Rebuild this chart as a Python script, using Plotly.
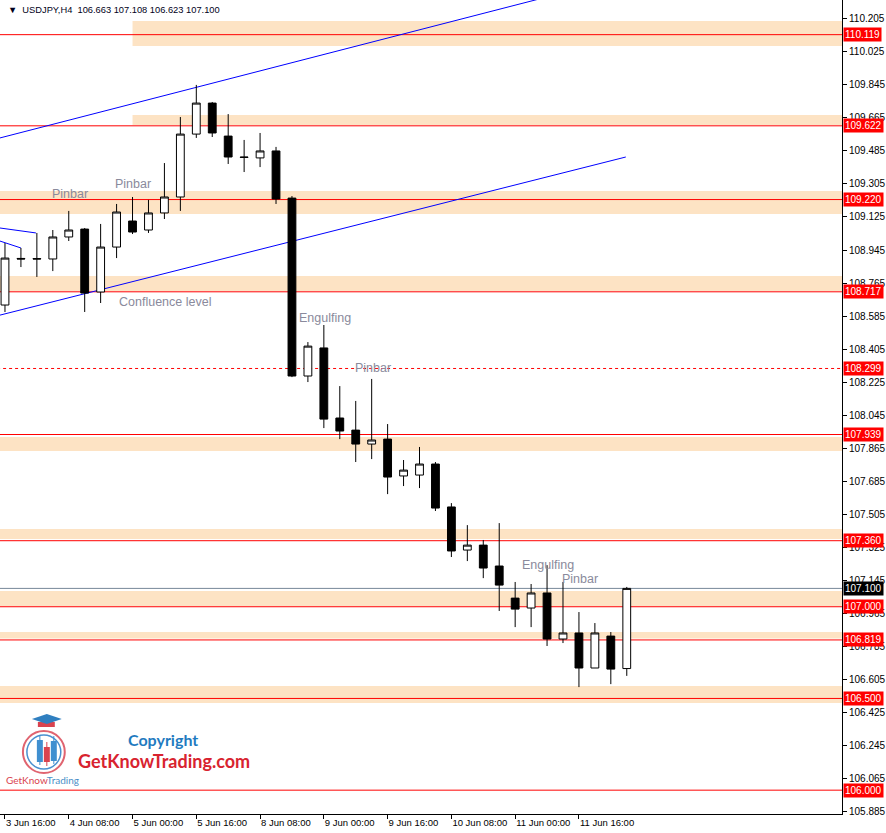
import plotly.graph_objects as go

# H4 candles, USDJPY 3 Jun 16:00 .. 12 Jun 04:00
times = [
    "3 Jun 16:00", "3 Jun 20:00",
    "4 Jun 00:00", "4 Jun 04:00", "4 Jun 08:00", "4 Jun 12:00", "4 Jun 16:00", "4 Jun 20:00",
    "5 Jun 00:00", "5 Jun 04:00", "5 Jun 08:00", "5 Jun 12:00", "5 Jun 16:00", "5 Jun 20:00",
    "8 Jun 00:00", "8 Jun 04:00", "8 Jun 08:00", "8 Jun 12:00", "8 Jun 16:00", "8 Jun 20:00",
    "9 Jun 00:00", "9 Jun 04:00", "9 Jun 08:00", "9 Jun 12:00", "9 Jun 16:00", "9 Jun 20:00",
    "10 Jun 00:00", "10 Jun 04:00", "10 Jun 08:00", "10 Jun 12:00", "10 Jun 16:00", "10 Jun 20:00",
    "11 Jun 00:00", "11 Jun 04:00", "11 Jun 08:00", "11 Jun 12:00", "11 Jun 16:00", "11 Jun 20:00",
    "12 Jun 00:00", "12 Jun 04:00",
]
opens = [108.645, 108.899, 108.898, 108.896, 109.016, 109.059, 108.716, 108.961, 109.103, 109.054,
         109.147, 109.234, 109.577, 109.746, 109.566, 109.452, 109.447, 109.485, 109.228, 108.258,
         108.411, 108.029, 107.963, 107.887, 107.914, 107.713, 107.718, 107.778, 107.544, 107.309,
         107.336, 107.222, 107.047, 106.993, 107.075, 106.824, 106.857, 106.666, 106.840, 106.663]
highs = [108.983, 108.956, 109.038, 109.054, 109.158, 109.065, 109.087, 109.196, 109.234, 109.218,
         109.419, 109.670, 109.845, 109.752, 109.686, 109.545, 109.583, 109.507, 109.239, 108.443,
         108.536, 108.203, 108.122, 108.242, 107.996, 107.800, 107.871, 107.789, 107.565, 107.445,
         107.364, 107.456, 107.135, 107.124, 107.227, 107.135, 106.971, 106.911, 106.862, 107.108]
lows = [108.607, 108.852, 108.798, 108.830, 108.994, 108.607, 108.656, 108.901, 109.032, 109.038,
        109.114, 109.158, 109.556, 109.561, 109.414, 109.370, 109.397, 109.196, 108.252, 108.225,
        107.974, 107.914, 107.789, 107.805, 107.614, 107.658, 107.647, 107.522, 107.271, 107.249,
        107.156, 106.977, 106.889, 106.889, 106.786, 106.802, 106.562, 106.666, 106.578, 106.623]
closes = [108.901, 108.896, 108.896, 109.016, 109.054, 108.710, 108.961, 109.152, 109.043, 109.147,
          109.234, 109.577, 109.746, 109.583, 109.452, 109.450, 109.485, 109.223, 108.258, 108.421,
          108.023, 107.958, 107.887, 107.909, 107.707, 107.745, 107.778, 107.538, 107.304, 107.336,
          107.211, 107.118, 106.987, 107.075, 106.824, 106.857, 106.666, 106.857, 106.660, 107.100]

# support / resistance levels
red_levels = [110.119, 109.622, 109.220, 108.717, 107.939, 107.360, 107.000, 106.819, 106.500, 106.000]
dashed_level = 108.299
bid_price = closes[-1]

# shaded zones (low, high, first candle)
zone_low = [110.057, 109.626, 109.141, 108.721, 107.849, 107.369, 107.004, 106.827, 106.475]
zone_high = [110.193, 109.681, 109.267, 108.803, 107.925, 107.424, 107.086, 106.862, 106.568]
zone_from = [8, 8, -2, -2, -2, -2, -2, -2, -2]

# trend lines: (x0, y0, x1, y1) in candle index / price
trend_lines = [
    (-0.3125, 109.556, 40.0, 110.459),
    (-0.3125, 108.590, 38.94, 109.452),
    (-2.0, 109.085, 1.94, 109.038),
    (-2.0, 109.042, 1.0, 108.956),
]

# pattern labels
label_text = ["Pinbar", "Pinbar", "Confluence level", "Engulfing", "Pinbar", "Engulfing", "Pinbar"]
label_x = [4.06, 8.06, 10.06, 20.06, 23.06, 34.06, 36.06]
label_y = [109.250, 109.305, 108.661, 108.574, 108.301, 107.227, 107.151]

y_ticks = [105.885, 106.065, 106.245, 106.425, 106.605, 106.785, 106.965, 107.145, 107.325,
           107.505, 107.685, 107.865, 108.045, 108.225, 108.405, 108.585, 108.765, 108.945,
           109.125, 109.305, 109.485, 109.665, 109.845, 110.025, 110.205]

x_pos = list(range(len(times)))
x_range = [-0.3125, 52.5]
y_range = [105.870, 110.308]

W, H = 886, 833
PW, PH = 845, 814


def px(x, y):
    # pixel position in the plot area -> paper coords
    return x / PW, 1 - y / PH


fig = go.Figure()

fig.add_trace(go.Candlestick(
    x=x_pos, open=opens, high=highs, low=lows, close=closes,
    increasing=dict(fillcolor="white", line=dict(color="black", width=1)),
    decreasing=dict(fillcolor="black", line=dict(color="black", width=1)),
    whiskerwidth=0, hoverinfo="skip", showlegend=False,
))

shapes = []
for lo, hi, x0 in zip(zone_low, zone_high, zone_from):
    shapes.append(dict(type="rect", xref="x", yref="y", x0=x0, x1=60, y0=lo, y1=hi,
                       fillcolor="#FDE3C4", line=dict(width=0), layer="below"))
for lvl in red_levels:
    shapes.append(dict(type="line", xref="x", yref="y", x0=-2, x1=60, y0=lvl, y1=lvl,
                       line=dict(color="#FF0000", width=1), layer="below"))
shapes.append(dict(type="line", xref="x", yref="y", x0=-2, x1=60, y0=dashed_level, y1=dashed_level,
                   line=dict(color="#FF0000", width=1, dash="3px,3px"), layer="below"))
shapes.append(dict(type="line", xref="x", yref="y", x0=-2, x1=60, y0=bid_price, y1=bid_price,
                   line=dict(color="#778899", width=1), layer="below"))
for x0, y0, x1, y1 in trend_lines:
    shapes.append(dict(type="line", xref="x", yref="y", x0=x0, y0=y0, x1=x1, y1=y1,
                       line=dict(color="#0000FF", width=1), layer="below"))

# logo
def circle(cx, cy, r, color, w):
    a0, b0 = px(cx - r, cy + r)
    a1, b1 = px(cx + r, cy - r)
    return dict(type="circle", xref="paper", yref="paper", x0=a0, y0=b0, x1=a1, y1=b1,
                line=dict(color=color, width=w), layer="above")


def box(x0, y0, x1, y1, color):
    a0, b0 = px(x0, y1)
    a1, b1 = px(x1, y0)
    return dict(type="rect", xref="paper", yref="paper", x0=a0, y0=b0, x1=a1, y1=b1,
                fillcolor=color, line=dict(width=0), layer="above")


shapes.append(circle(44, 752, 21, "#E06470", 2))
shapes.append(circle(44, 752, 17, "#4A90CF", 1.5))
shapes.append(box(39.5, 735, 40.5, 765, "#3F8FD0"))
shapes.append(box(37, 740, 43, 762, "#3F8FD0"))
shapes.append(box(46.5, 742, 47.5, 766, "#D9434F"))
shapes.append(box(44, 747, 50, 762, "#D9434F"))
shapes.append(box(53.5, 736, 54.5, 764, "#3F8FD0"))
shapes.append(box(51, 741, 57, 761, "#3F8FD0"))
shapes.append(box(38, 722, 55, 727, "#D9434F"))
a, b = px(32, 719)
c, d = px(47, 714)
e, f = px(62, 719)
g, h = px(47, 724)
shapes.append(dict(type="path", xref="paper", yref="paper",
                   path=f"M {a} {b} L {c} {d} L {e} {f} L {g} {h} Z",
                   fillcolor="#2F7FC0", line=dict(width=0), layer="above"))

annotations = []
for t, x, y in zip(label_text, label_x, label_y):
    annotations.append(dict(x=x, y=y, xref="x", yref="y", text=t, showarrow=False,
                            xanchor="center", yanchor="middle",
                            font=dict(family="Liberation Sans, Arial", size=12.5, color="#8A8A9C")))

for lvl in red_levels + [dashed_level]:
    annotations.append(dict(x=1, y=lvl, xref="paper", yref="y", xanchor="left", text=f"{lvl:.3f}",
                            showarrow=False, bgcolor="#FF0000", borderpad=1, xshift=1,
                            font=dict(family="Liberation Sans, Arial", size=10, color="white")))
annotations.append(dict(x=1, y=bid_price, xref="paper", yref="y", xanchor="left", text=f"{bid_price:.3f}",
                        showarrow=False, bgcolor="#000000", borderpad=1, xshift=1,
                        font=dict(family="Liberation Sans, Arial", size=10, color="white")))

header = f"▼  USDJPY,H4  {opens[-1]:.3f} {highs[-1]:.3f} {lows[-1]:.3f} {closes[-1]:.3f}"
annotations.append(dict(x=0, y=1, xref="paper", yref="paper", xanchor="left", yanchor="top",
                        xshift=6, yshift=-3, text=header, showarrow=False,
                        font=dict(family="Liberation Sans, Arial", size=9.3, color="#000020")))

lx, ly = px(164, 739)
annotations.append(dict(x=lx, y=ly, xref="paper", yref="paper", text="<b>Copyright</b>", showarrow=False,
                        xanchor="center", yanchor="middle",
                        font=dict(family="Lato", size=16, color="#1F7BC0")))
lx, ly = px(165, 761)
annotations.append(dict(x=lx, y=ly, xref="paper", yref="paper", text="<b>GetKnowTrading.com</b>",
                        showarrow=False, xanchor="center", yanchor="middle",
                        font=dict(family="Lato", size=18, color="#D8232F")))
lx, ly = px(43, 780)
annotations.append(dict(x=lx, y=ly, xref="paper", yref="paper",
                        text="<span style='color:#D9434F'>GetKnow</span><span style='color:#4A90C8'>Trading</span>",
                        showarrow=False, xanchor="center", yanchor="middle",
                        font=dict(family="Lato", size=10)))

fig.update_layout(
    width=W, height=H,
    margin=dict(l=0, r=W - PW, t=0, b=H - PH),
    paper_bgcolor="white", plot_bgcolor="white",
    showlegend=False,
    shapes=shapes, annotations=annotations,
    boxgap=0.3,
    xaxis=dict(
        range=x_range, rangeslider=dict(visible=False),
        tickvals=x_pos[::4], ticktext=times[::4],
        ticks="outside", ticklen=4, tickcolor="black",
        ticklabelposition="outside right",
        showgrid=False, zeroline=False,
        showline=True, linecolor="black", linewidth=1,
        tickfont=dict(family="Liberation Sans, Arial", size=9.5, color="black"),
        fixedrange=True,
    ),
    yaxis=dict(
        range=y_range, side="right",
        tickvals=y_ticks, tickformat=".3f",
        ticks="outside", ticklen=4, tickcolor="black",
        showgrid=False, zeroline=False,
        showline=True, linecolor="black", linewidth=1,
        tickfont=dict(family="Liberation Sans, Arial", size=10, color="black"),
        fixedrange=True,
    ),
)

# the page body has a default 8px margin; drop it so the chart fills the window
fig.write_html("out.html", config={"displayModeBar": False},
               post_script="document.body.style.margin='0';document.body.style.overflow='hidden';")
